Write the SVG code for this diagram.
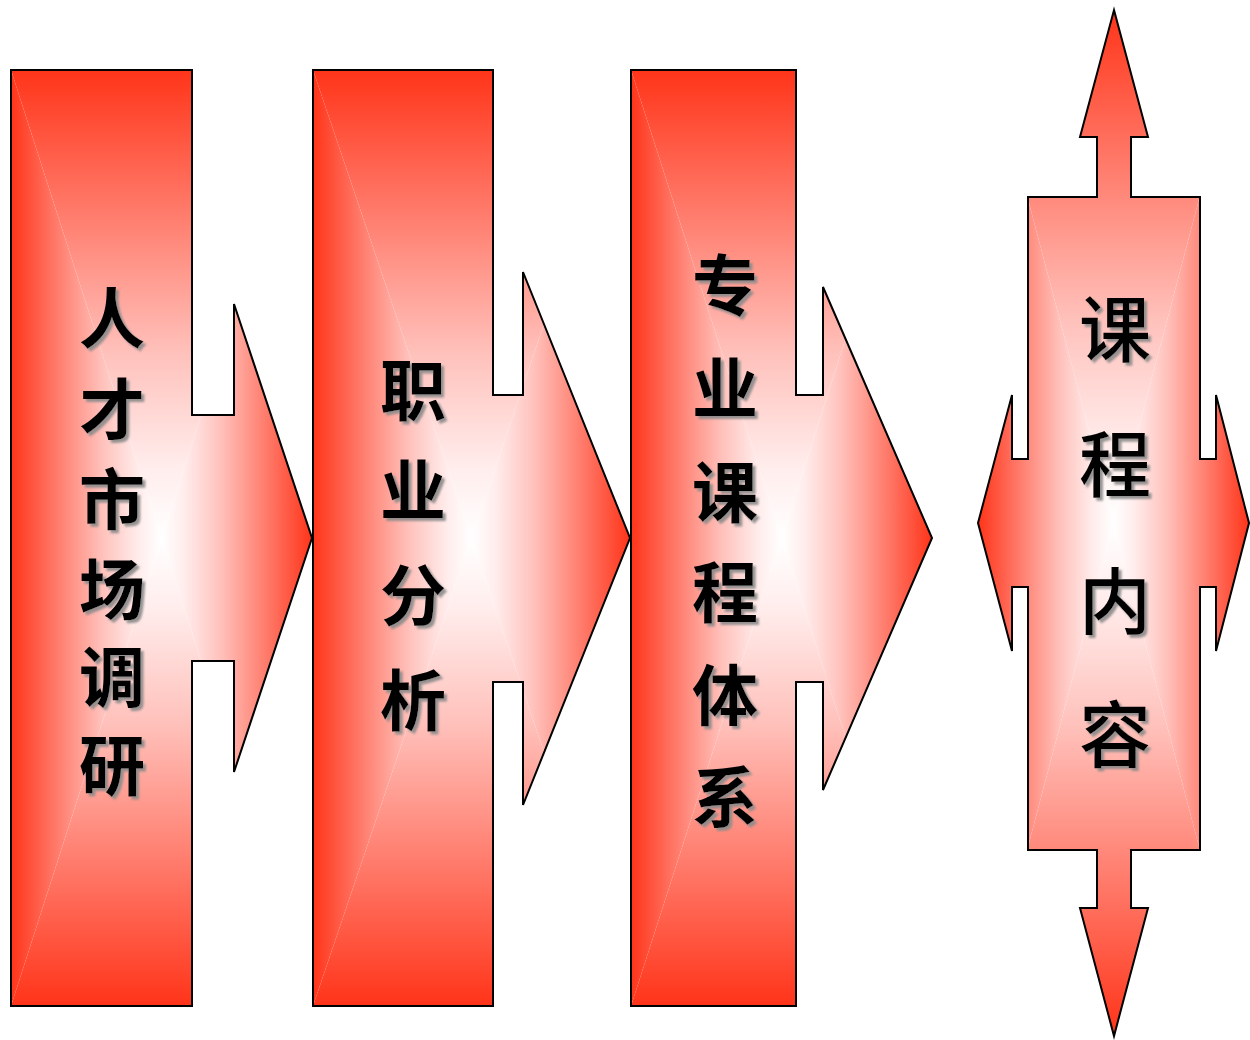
<svg xmlns="http://www.w3.org/2000/svg" width="1250" height="1040" viewBox="0 0 1250 1040">
<style>
.outline{fill:none;stroke:#000;stroke-width:2;stroke-linejoin:miter}
.lbl{font-family:"Noto Sans CJK SC","Noto Sans CJK JP",sans-serif;font-weight:700;font-size:66px;fill:#000;text-anchor:middle;filter:url(#shadow)}
.lbl2{font-family:"Noto Sans CJK SC","Noto Sans CJK JP",sans-serif;font-weight:500;font-size:72px;fill:#000;text-anchor:middle;filter:url(#shadow)}
</style>
<defs>
<linearGradient id="gT" x1="0" y1="0" x2="0" y2="1">
<stop offset="0" stop-color="#FF3419"/><stop offset="0.3" stop-color="#FF7A6A"/><stop offset="0.6" stop-color="#FFC0BA"/><stop offset="0.85" stop-color="#FFEDEC"/><stop offset="1" stop-color="#FFFFFF"/>
</linearGradient>
<linearGradient id="gB" href="#gT" x1="0" y1="1" x2="0" y2="0"/>
<linearGradient id="gL" href="#gT" x1="0" y1="0" x2="1" y2="0"/>
<linearGradient id="gR" href="#gT" x1="1" y1="0" x2="0" y2="0"/>
<filter id="shadow" x="-20%" y="-20%" width="140%" height="140%">
<feDropShadow dx="3" dy="3" stdDeviation="0.8" flood-color="#8a8a8a" flood-opacity="0.9"/>
</filter>
<polygon id="p1" points="11,70 192,70 192,415 234,415 234,304 312,538 234,772 234,661 192,661 192,1006 11,1006"/>
<polygon id="p2" points="313,70 493,70 493,395 523,395 523,272 630,538 523,805 523,682 493,682 493,1006 313,1006"/>
<polygon id="p3" points="631,70 796,70 796,395 823,395 823,287 932,538 823,790 823,682 796,682 796,1006 631,1006"/>
<polygon id="p4" points="1114,10 1148,137 1131,137 1131,197 1200,197 1200,459 1216,459 1216,395 1249,523 1216,651 1216,587 1200,587 1200,850 1131,850 1131,908 1148,908 1114,1036 1080,908 1097,908 1097,850 1028,850 1028,587 1012,587 1012,651 978,523 1012,395 1012,459 1028,459 1028,197 1097,197 1097,137 1080,137"/>
<clipPath id="c1"><use href="#p1"/></clipPath>
<clipPath id="c2"><use href="#p2"/></clipPath>
<clipPath id="c3"><use href="#p3"/></clipPath>
<clipPath id="c4"><use href="#p4"/></clipPath>
</defs>
<rect width="1250" height="1040" fill="#fff"/>
<g id="connectors"></g>
<g id="node-rencai">
<g clip-path="url(#c1)">
<polygon points="11,70 312,70 161.5,538" fill="url(#gT)"/>
<polygon points="11,1006 312,1006 161.5,538" fill="url(#gB)"/>
<polygon points="11,70 11,1006 161.5,538" fill="url(#gL)"/>
<polygon points="312,70 312,1006 161.5,538" fill="url(#gR)"/>
</g>
<use href="#p1" class="outline"/>
<text class="lbl"><tspan x="112" y="343">人</tspan><tspan x="112" y="434">才</tspan><tspan x="112" y="524">市</tspan><tspan x="112" y="614">场</tspan><tspan x="112" y="702">调</tspan><tspan x="112" y="790">研</tspan></text>
</g>
<g id="node-zhiye">
<g clip-path="url(#c2)">
<polygon points="313,70 630,70 471.5,538" fill="url(#gT)"/>
<polygon points="313,1006 630,1006 471.5,538" fill="url(#gB)"/>
<polygon points="313,70 313,1006 471.5,538" fill="url(#gL)"/>
<polygon points="630,70 630,1006 471.5,538" fill="url(#gR)"/>
</g>
<use href="#p2" class="outline"/>
<text class="lbl"><tspan x="413" y="415">职</tspan><tspan x="413" y="515">业</tspan><tspan x="413" y="620">分</tspan><tspan x="413" y="725">析</tspan></text>
</g>
<g id="node-kecheng-tixi">
<g clip-path="url(#c3)">
<polygon points="631,70 932,70 781.5,538" fill="url(#gT)"/>
<polygon points="631,1006 932,1006 781.5,538" fill="url(#gB)"/>
<polygon points="631,70 631,1006 781.5,538" fill="url(#gL)"/>
<polygon points="932,70 932,1006 781.5,538" fill="url(#gR)"/>
</g>
<use href="#p3" class="outline"/>
<text class="lbl"><tspan x="725" y="310">专</tspan><tspan x="725" y="413">业</tspan><tspan x="725" y="517">课</tspan><tspan x="725" y="617">程</tspan><tspan x="725" y="720">体</tspan><tspan x="725" y="822">系</tspan></text>
</g>
<g id="node-kecheng-neirong">
<g clip-path="url(#c4)">
<polygon points="978,10 1249,10 1113.5,523" fill="url(#gT)"/>
<polygon points="978,1036 1249,1036 1113.5,523" fill="url(#gB)"/>
<polygon points="978,10 978,1036 1113.5,523" fill="url(#gL)"/>
<polygon points="1249,10 1249,1036 1113.5,523" fill="url(#gR)"/>
</g>
<use href="#p4" class="outline"/>
<text class="lbl2"><tspan x="1115" y="356">课</tspan><tspan x="1115" y="491">程</tspan><tspan x="1115" y="628">内</tspan><tspan x="1115" y="761">容</tspan></text>
</g>
</svg>
